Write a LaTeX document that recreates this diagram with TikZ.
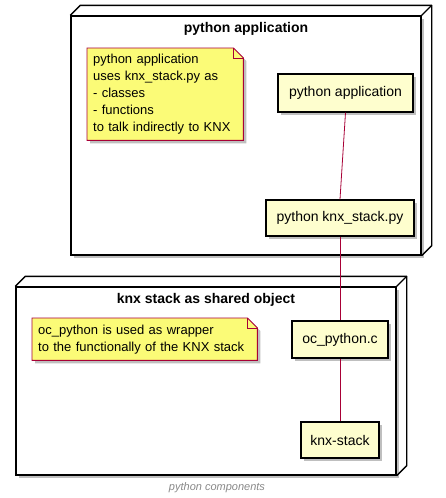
\documentclass[tikz,border=0pt]{standalone}
\usepackage{fontspec}
\setmainfont{Liberation Sans}
\usetikzlibrary{positioning,calc,shadows}
\definecolor{UmlRojo}{HTML}{A80036}
\definecolor{UmlCrema}{HTML}{FEFECE}
\definecolor{UmlNota}{HTML}{FBFB77}
\definecolor{UmlGris}{HTML}{888888}
\tikzset{
  sombra/.style={drop shadow={shadow xshift=3pt, shadow yshift=-3pt, fill=black, opacity=.25}},
  nodofront/.style={draw=black, line width=1.4pt, fill=white, inner sep=0pt, sombra},
  nodocara/.style={draw=black, line width=1.4pt, line join=round},
  nodotitulo/.style={font=\fontsize{14}{16}\selectfont\bfseries, inner sep=0pt},
  nota/.style={align=left, text width=#1, inner sep=6pt,
    font=\fontsize{13}{17}\selectfont},
  nota/.default=144pt,
  notaborde/.style={draw=UmlRojo, line width=0.9pt, fill=UmlNota, sombra},
  notapliegue/.style={draw=UmlRojo, line width=0.9pt},
  compbox/.style={draw=black, line width=1.3pt, fill=UmlCrema, inner sep=0pt,
    font=\fontsize{14}{16}\selectfont, sombra},
  enlace/.style={draw=UmlRojo, line width=0.8pt},
  pie/.style={font=\fontsize{11}{13}\selectfont\itshape, text=UmlGris, inner sep=0pt},
}

\begin{document}
\begin{tikzpicture}[x=1pt, y=-1pt]
  \useasboundingbox (0,0) rectangle (446,498);
  % ---- nodo: python application ----
  \node[nodofront, minimum width=350pt, minimum height=239pt] (appnodo) at (246,135.5) {};
  \draw[nodocara] (appnodo.north west) -- ++(10,-10) -| ($(appnodo.south east)+(10,-10)$) -- (appnodo.south east);
  \draw[nodocara] (appnodo.north east) -- ++(10,-10);
  \node[nodotitulo] (apptitulo) at (246,29) {python application};
  % ---- nodo: knx stack ----
  \node[nodofront, minimum width=380pt, minimum height=188pt] (knxnodo) at (206,381) {};
  \draw[nodocara] (knxnodo.north west) -- ++(10,-10) -| ($(knxnodo.south east)+(10,-10)$) -- (knxnodo.south east);
  \draw[nodocara] (knxnodo.north east) -- ++(10,-10);
  \node[nodotitulo] (knxtitulo) at (206,300) {knx stack as shared object};
  % ---- notas ----
  \node[nota, minimum height=92pt, anchor=north west] (nota1) at (87,48) {};
  \filldraw[notaborde] (nota1.south west) -- (nota1.north west) -- ($(nota1.north east)+(-10,0)$)
    -- ($(nota1.north east)+(0,10)$) -- (nota1.south east) -- cycle;
  \draw[notapliegue] ($(nota1.north east)+(-10,0)$) |- ($(nota1.north east)+(0,10)$);
  \node[nota, minimum height=92pt, anchor=north west] at (87,48)
    {python application\\uses knx\_stack.py as\\- classes\\- functions\\to talk indirectly to KNX};
  \node[nota=213pt, minimum height=42pt, anchor=north west] (nota2) at (32,318) {};
  \filldraw[notaborde] (nota2.south west) -- (nota2.north west) -- ($(nota2.north east)+(-10,0)$)
    -- ($(nota2.north east)+(0,10)$) -- (nota2.south east) -- cycle;
  \draw[notapliegue] ($(nota2.north east)+(-10,0)$) |- ($(nota2.north east)+(0,10)$);
  \node[nota=213pt, minimum height=42pt, anchor=north west] at (32,318)
    {oc\_python is used as wrapper\\to the functionally of the KNX stack};
  % ---- componentes ----
  \node[compbox, minimum width=135pt, minimum height=38pt] (pyapp) at (345.5,93) {python application};
  \node[compbox, minimum width=148pt, minimum height=36pt] (pystack) at (340,218) {python knx\_stack.py};
  \node[compbox, minimum width=96pt, minimum height=37pt] (ocpy) at (340,339.5) {oc\_python.c};
  \node[compbox, minimum width=78pt, minimum height=36pt] (knxstack) at (340,440) {knx-stack};
  \draw[enlace] (pyapp.south) -- (pystack.north);
  \draw[enlace] (pystack.south) -- (ocpy.north);
  \draw[enlace] (ocpy.south) -- (knxstack.north);
  \node[pie] (pie) at (217,488) {python components};
\end{tikzpicture}
\end{document}
